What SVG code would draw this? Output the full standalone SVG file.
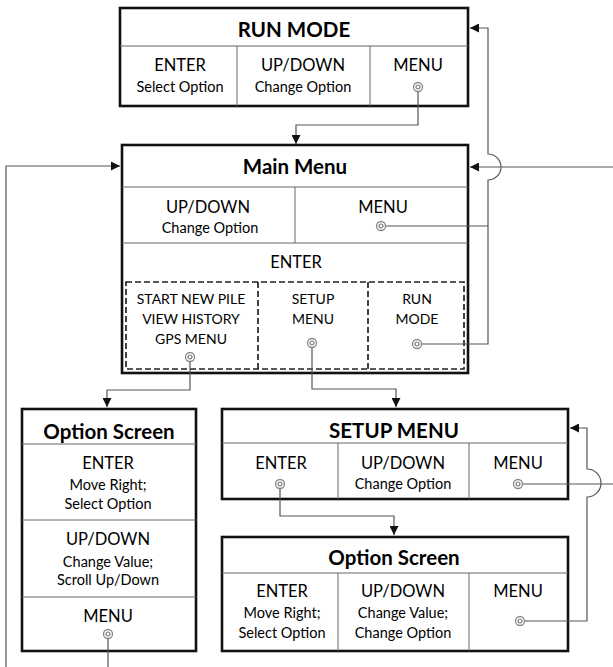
<svg xmlns="http://www.w3.org/2000/svg" width="613" height="667" viewBox="0 0 613 667">
<defs>
<marker id="arr" viewBox="0 0 10 10" refX="10" refY="5" markerWidth="9" markerHeight="9" markerUnits="userSpaceOnUse" orient="auto">
<path d="M0,0 L10,5 L0,10 z" fill="#111"/>
</marker>
<g id="tgt">
<circle r="4.5" fill="#fff" stroke="#888" stroke-width="1.3"/>
<circle r="2" fill="none" stroke="#777" stroke-width="1.2"/>
</g>
</defs>
<style>
.box{fill:#fff;stroke:#111;stroke-width:2.6}
.div{stroke:#666;stroke-width:1;fill:none}
.dash{fill:none;stroke:#222;stroke-width:1.7;stroke-dasharray:6,3}
.con{fill:none;stroke:#555;stroke-width:1.2}
text{font-family:Lato,"Liberation Sans",sans-serif;fill:#000;text-anchor:middle}
.t{font-size:20.5px;font-weight:bold}
.h{font-size:16.5px}
.s{font-size:14.5px}
.d{font-size:14px}
</style>
<rect width="613" height="667" fill="#fff"/>

<g id="run-mode">
<rect class="box" x="120" y="8" width="348" height="98"/>
<line class="div" x1="120" y1="46" x2="468" y2="46"/>
<line class="div" x1="237" y1="46" x2="237" y2="106"/>
<line class="div" x1="370" y1="46" x2="370" y2="106"/>
<text class="t" x="294" y="37">RUN MODE</text>
<text class="h" x="180" y="71">ENTER</text>
<text class="s" x="180" y="92">Select Option</text>
<text class="h" x="303" y="71">UP/DOWN</text>
<text class="s" x="303" y="92">Change Option</text>
<text class="h" x="418" y="71">MENU</text>
</g>

<g id="main-menu">
<rect class="box" x="122" y="145" width="346" height="228"/>
<line class="div" x1="122" y1="187" x2="468" y2="187"/>
<line class="div" x1="295" y1="187" x2="295" y2="243"/>
<line class="div" x1="122" y1="243" x2="468" y2="243"/>
<text class="t" x="295" y="174">Main Menu</text>
<text class="h" x="208" y="213">UP/DOWN</text>
<text class="s" x="210" y="233">Change Option</text>
<text class="h" x="383" y="213">MENU</text>
<text class="h" x="296" y="268">ENTER</text>
<rect class="dash" x="126" y="282" width="338" height="87"/>
<line class="dash" x1="258" y1="282" x2="258" y2="369"/>
<line class="dash" x1="368" y1="282" x2="368" y2="369"/>
<text class="d" x="191" y="304">START NEW PILE</text>
<text class="d" x="191" y="324">VIEW HISTORY</text>
<text class="d" x="191" y="344">GPS MENU</text>
<text class="d" x="313" y="304">SETUP</text>
<text class="d" x="313" y="324">MENU</text>
<text class="d" x="417" y="304">RUN</text>
<text class="d" x="417" y="324">MODE</text>
</g>

<g id="option-screen-left">
<rect class="box" x="22" y="409" width="174" height="242"/>
<line class="div" x1="22" y1="444" x2="196" y2="444"/>
<line class="div" x1="22" y1="520" x2="196" y2="520"/>
<line class="div" x1="22" y1="597" x2="196" y2="597"/>
<text class="t" x="109" y="439">Option Screen</text>
<text class="h" x="108" y="469">ENTER</text>
<text class="s" x="108" y="490">Move Right;</text>
<text class="s" x="108" y="509">Select Option</text>
<text class="h" x="108" y="545">UP/DOWN</text>
<text class="s" x="108" y="567">Change Value;</text>
<text class="s" x="108" y="585">Scroll Up/Down</text>
<text class="h" x="108" y="622">MENU</text>
</g>

<g id="setup-menu">
<rect class="box" x="222" y="409" width="346" height="90"/>
<line class="div" x1="222" y1="443" x2="568" y2="443"/>
<line class="div" x1="338" y1="443" x2="338" y2="499"/>
<line class="div" x1="469" y1="443" x2="469" y2="499"/>
<text class="t" x="394" y="438">SETUP MENU</text>
<text class="h" x="281" y="469">ENTER</text>
<text class="h" x="403" y="469">UP/DOWN</text>
<text class="s" x="403" y="489">Change Option</text>
<text class="h" x="518" y="469">MENU</text>
</g>

<g id="option-screen-right">
<rect class="box" x="222" y="537" width="346" height="114"/>
<line class="div" x1="222" y1="573" x2="568" y2="573"/>
<line class="div" x1="338" y1="573" x2="338" y2="651"/>
<line class="div" x1="469" y1="573" x2="469" y2="651"/>
<text class="t" x="394" y="565">Option Screen</text>
<text class="h" x="282" y="597">ENTER</text>
<text class="s" x="282" y="618">Move Right;</text>
<text class="s" x="282" y="638">Select Option</text>
<text class="h" x="403" y="597">UP/DOWN</text>
<text class="s" x="403" y="618">Change Value;</text>
<text class="s" x="403" y="638">Change Option</text>
<text class="h" x="518" y="597">MENU</text>
</g>

<g id="connectors">
<path class="con" d="M418,87 V125 H296 V144" marker-end="url(#arr)"/>
<path class="con" d="M381,226 H488"/>
<path class="con" d="M417,344 H488 V180 A13,13 0 0 0 488,154 V28 H470" marker-end="url(#arr)"/>
<path class="con" d="M613,167 H470" marker-end="url(#arr)"/>
<path class="con" d="M190,357 V390 H107 V407" marker-end="url(#arr)"/>
<path class="con" d="M312,343 V389 H396 V407" marker-end="url(#arr)"/>
<path class="con" d="M280,484 V516 H394 V535" marker-end="url(#arr)"/>
<path class="con" d="M518,484 H613"/>
<path class="con" d="M520,621 H587 V497 A14,14 0 0 0 587,469 V428 H570" marker-end="url(#arr)"/>
<path class="con" d="M108,634 V667"/>
<path class="con" d="M6,667 V166 H120" marker-end="url(#arr)"/>
</g>

<g id="targets">
<use href="#tgt" x="418" y="87"/>
<use href="#tgt" x="381" y="226"/>
<use href="#tgt" x="190" y="357"/>
<use href="#tgt" x="312" y="343"/>
<use href="#tgt" x="417" y="344"/>
<use href="#tgt" x="108" y="634"/>
<use href="#tgt" x="280" y="484"/>
<use href="#tgt" x="518" y="484"/>
<use href="#tgt" x="520" y="621"/>
</g>
</svg>
